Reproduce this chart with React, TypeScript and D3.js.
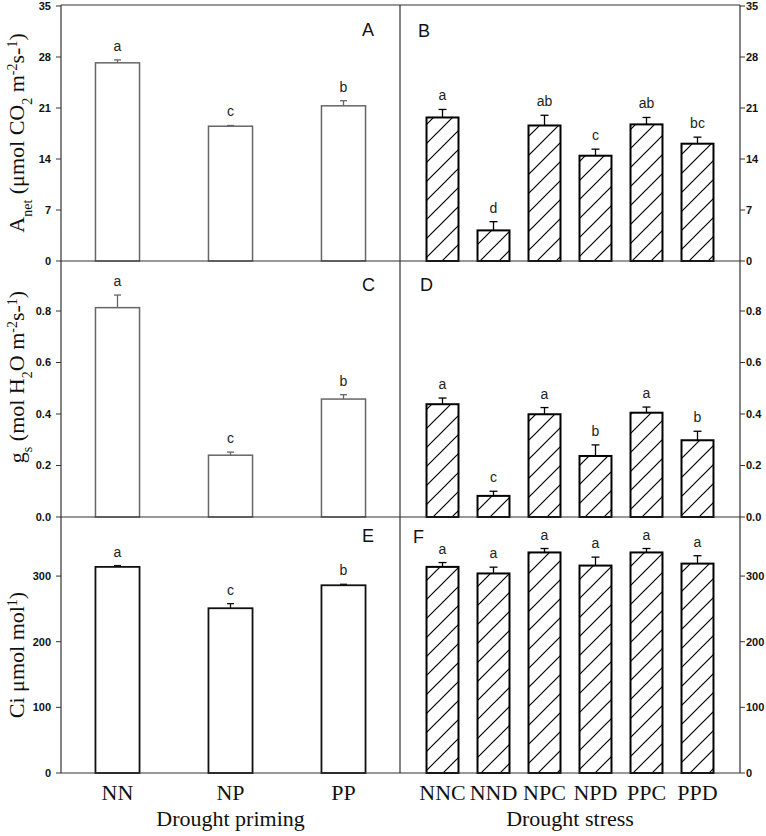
import React from 'react';
import * as d3 from 'd3';

const primingCats = ['NN', 'NP', 'PP'];
const stressCats = ['NNC', 'NND', 'NPC', 'NPD', 'PPC', 'PPD'];

const anetPriming = [27.2, 18.5, 21.3];
const anetPrimingSE = [0.4, 0.1, 0.7];
const anetPrimingLetters = ['a', 'c', 'b'];
const anetStress = [19.7, 4.2, 18.6, 14.45, 18.75, 16.1];
const anetStressSE = [1.1, 1.2, 1.4, 0.9, 0.95, 0.9];
const anetStressLetters = ['a', 'd', 'ab', 'c', 'ab', 'bc'];

const gsPriming = [0.813, 0.24, 0.458];
const gsPrimingSE = [0.049, 0.012, 0.017];
const gsPrimingLetters = ['a', 'c', 'b'];
const gsStress = [0.438, 0.082, 0.399, 0.237, 0.405, 0.298];
const gsStressSE = [0.024, 0.018, 0.026, 0.043, 0.022, 0.035];
const gsStressLetters = ['a', 'c', 'a', 'b', 'a', 'b'];

const ciPriming = [314, 251, 286];
const ciPrimingSE = [2, 7, 1.5];
const ciPrimingLetters = ['a', 'c', 'b'];
const ciStress = [314, 304, 336, 316, 336, 319];
const ciStressSE = [6.6, 9.6, 6, 12.9, 6, 12];
const ciStressLetters = ['a', 'a', 'a', 'a', 'a', 'a'];

const anetTicks = [0, 7, 14, 21, 28, 35];
const gsTicks = [0, 0.2, 0.4, 0.6, 0.8];
const ciTicks = [0, 100, 200, 300];

const W = 766;
const H = 836;
const L = 61;
const MID = 400;
const R = 740;
const rows = [
  [5, 261],
  [261, 517],
  [517, 773],
];

const xPriming = d3.scaleBand().domain(primingCats).range([L, MID]).paddingInner(0.61).paddingOuter(0.305);
const xStress = d3.scaleBand().domain(stressCats).range([MID, R]).paddingInner(0.373).paddingOuter(0.52);

const yAnet = d3.scaleLinear().domain([0, 35]).range([rows[0][1], rows[0][0] + 1]);
const yGs = d3.scaleLinear().domain([0, 1]).range([rows[1][1], rows[1][0] - 1.5]);
const yCi = d3.scaleLinear().domain([0, 390]).range([rows[2][1], rows[2][0]]);

const sans = 'Arial, "Liberation Sans", Helvetica, sans-serif';
const serif = '"Times New Roman", "Liberation Serif", Times, serif';

type BarsProps = {
  cats: string[];
  vals: number[];
  se: number[];
  letters: string[];
  x: d3.ScaleBand<string>;
  y: d3.ScaleLinear<number, number>;
  hatch: boolean;
  stroke: string;
  sw: number;
  capW: number;
};

function Bars({ cats, vals, se, letters, x, y, hatch, stroke, sw, capW }: BarsProps) {
  return (
    <g>
      {cats.map((c, i) => {
        const x0 = x(c)!;
        const bw = x.bandwidth();
        const cx = x0 + bw / 2;
        const yTop = y(vals[i]);
        const yErr = y(vals[i] + se[i]);
        const yBase = y(0);
        return (
          <g key={c}>
            <rect x={x0} y={yTop} width={bw} height={yBase - yTop} fill="#fff" />
            {hatch && <rect x={x0} y={yTop} width={bw} height={yBase - yTop} fill="url(#hatch)" />}
            <line x1={cx} x2={cx} y1={yTop} y2={yErr} stroke={stroke} strokeWidth={1.3} />
            <line x1={cx - capW / 2} x2={cx + capW / 2} y1={yErr} y2={yErr} stroke={stroke} strokeWidth={1.3} />
            <rect x={x0} y={yTop} width={bw} height={yBase - yTop} fill="none" stroke={stroke} strokeWidth={sw} />
            <text x={cx} y={yErr - 9} textAnchor="middle" fontFamily={sans} fontSize={14} fill="#222">
              {letters[i]}
            </text>
          </g>
        );
      })}
    </g>
  );
}

function AxisLabels({ ticks, y, side, fmt }: { ticks: number[]; y: d3.ScaleLinear<number, number>; side: 'left' | 'right'; fmt: (v: number) => string }) {
  const x0 = side === 'left' ? L : R;
  const dir = side === 'left' ? -1 : 1;
  return (
    <g>
      {ticks.map((t) => (
        <g key={t}>
          <line x1={x0} x2={x0 + dir * 5} y1={y(t)} y2={y(t)} stroke="#333" strokeWidth={1} />
          <text
            x={x0 + dir * (side === 'left' ? 10 : 6)}
            y={y(t)}
            dy="0.35em"
            textAnchor={side === 'left' ? 'end' : 'start'}
            fontFamily={sans}
            fontWeight="bold"
            fontSize={11}
            fill="#111"
          >
            {fmt(t)}
          </text>
        </g>
      ))}
    </g>
  );
}

export default function App() {
  const fInt = d3.format('d');
  const f1 = d3.format('.1f');
  const frame = '#333';
  return (
    <svg width={W} height={H} style={{ position: 'absolute', left: 0, top: 0, background: '#fff' }}>
      <defs>
        <pattern id="hatch" patternUnits="userSpaceOnUse" width={19} height={19}>
          <path d="M0,19 L19,0 M-2,2 L2,-2 M17,21 L21,17" stroke="#000" strokeWidth={1.2} />
        </pattern>
      </defs>
      <rect x={0} y={0} width={W} height={H} fill="#fff" />

      {/* bars */}
      <Bars cats={primingCats} vals={anetPriming} se={anetPrimingSE} letters={anetPrimingLetters} x={xPriming} y={yAnet} hatch={false} stroke="#666" sw={1.5} capW={7} />
      <Bars cats={stressCats} vals={anetStress} se={anetStressSE} letters={anetStressLetters} x={xStress} y={yAnet} hatch={true} stroke="#000" sw={2} capW={8} />
      <Bars cats={primingCats} vals={gsPriming} se={gsPrimingSE} letters={gsPrimingLetters} x={xPriming} y={yGs} hatch={false} stroke="#666" sw={1.5} capW={7} />
      <Bars cats={stressCats} vals={gsStress} se={gsStressSE} letters={gsStressLetters} x={xStress} y={yGs} hatch={true} stroke="#000" sw={2} capW={8} />
      <Bars cats={primingCats} vals={ciPriming} se={ciPrimingSE} letters={ciPrimingLetters} x={xPriming} y={yCi} hatch={false} stroke="#111" sw={1.8} capW={7} />
      <Bars cats={stressCats} vals={ciStress} se={ciStressSE} letters={ciStressLetters} x={xStress} y={yCi} hatch={true} stroke="#000" sw={2} capW={8} />

      {/* frame */}
      <g stroke={frame} strokeWidth={1.2} fill="none">
        <line x1={L} x2={R} y1={rows[0][0]} y2={rows[0][0]} />
        <line x1={L} x2={R} y1={rows[1][0]} y2={rows[1][0]} />
        <line x1={L} x2={R} y1={rows[2][0]} y2={rows[2][0]} />
        <line x1={L} x2={R} y1={rows[2][1]} y2={rows[2][1]} />
        <line x1={L} x2={L} y1={rows[0][0]} y2={rows[2][1]} />
        <line x1={MID} x2={MID} y1={rows[0][0]} y2={rows[2][1]} />
        <line x1={R} x2={R} y1={rows[0][0]} y2={rows[2][1]} />
      </g>

      {/* axes */}
      <AxisLabels ticks={anetTicks} y={yAnet} side="left" fmt={fInt} />
      <AxisLabels ticks={anetTicks} y={yAnet} side="right" fmt={fInt} />
      <AxisLabels ticks={gsTicks} y={yGs} side="left" fmt={f1} />
      <AxisLabels ticks={gsTicks} y={yGs} side="right" fmt={f1} />
      <AxisLabels ticks={ciTicks} y={yCi} side="left" fmt={fInt} />
      <AxisLabels ticks={ciTicks} y={yCi} side="right" fmt={fInt} />

      {/* panel letters */}
      <g fontFamily={sans} fontSize={18} fill="#111">
        <text x={362} y={36}>A</text>
        <text x={418} y={37}>B</text>
        <text x={362} y={291}>C</text>
        <text x={420} y={291}>D</text>
        <text x={362} y={542}>E</text>
        <text x={413} y={543}>F</text>
      </g>

      {/* y titles */}
      <g fontFamily={serif} fontSize={22} fill="#111">
        <text transform="translate(24,133) rotate(-90)" textAnchor="middle">
          A<tspan fontSize={14} baselineShift="sub">net</tspan>
          <tspan> (μmol CO</tspan>
          <tspan fontSize={14} baselineShift="sub">2</tspan>
          <tspan> m</tspan>
          <tspan fontSize={14} baselineShift="super">-2</tspan>
          <tspan>s-</tspan>
          <tspan fontSize={14} baselineShift="super">1</tspan>
          <tspan>)</tspan>
        </text>
        <text transform="translate(24,377) rotate(-90)" textAnchor="middle">
          g<tspan fontSize={14} baselineShift="sub">s</tspan>
          <tspan> (mol H</tspan>
          <tspan fontSize={14} baselineShift="sub">2</tspan>
          <tspan>O m</tspan>
          <tspan fontSize={14} baselineShift="super">-2</tspan>
          <tspan>s-</tspan>
          <tspan fontSize={14} baselineShift="super">1</tspan>
          <tspan>)</tspan>
        </text>
        <text transform="translate(24,655) rotate(-90)" textAnchor="middle">
          Ci μmol mol<tspan fontSize={14} baselineShift="super">1</tspan>
          <tspan>)</tspan>
        </text>
      </g>

      {/* x labels */}
      <g fontFamily={serif} fontSize={22} fill="#111" textAnchor="middle">
        {primingCats.map((c) => (
          <text key={c} x={xPriming(c)! + xPriming.bandwidth() / 2} y={800}>
            {c}
          </text>
        ))}
        {stressCats.map((c) => (
          <text key={c} x={xStress(c)! + xStress.bandwidth() / 2} y={800}>
            {c}
          </text>
        ))}
        <text x={(L + MID) / 2} y={826}>Drought priming</text>
        <text x={(MID + R) / 2} y={826}>Drought stress</text>
      </g>
    </svg>
  );
}
